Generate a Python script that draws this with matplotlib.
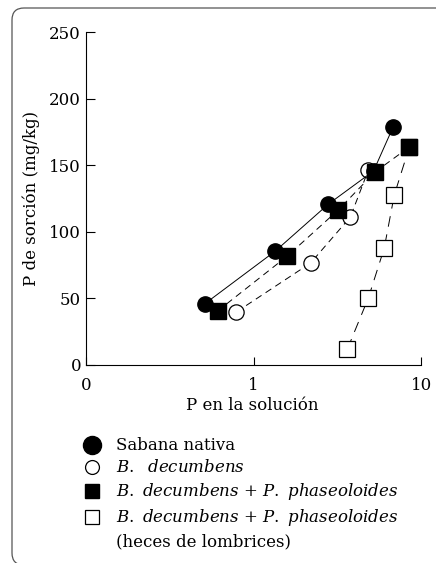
import matplotlib.pyplot as plt
from matplotlib.lines import Line2D
from matplotlib.patches import FancyBboxPatch
from matplotlib.transforms import IdentityTransform

plt.rcParams['font.family'] = ['DejaVu Serif']
plt.rcParams['mathtext.fontset'] = 'dejavuserif'

# P en la solucion (x, log) vs P de sorcion (y, mg/kg)
sabana_x = [0.51, 1.35, 2.8, 5.2, 6.8]
sabana_y = [45.8, 85.6, 120.9, 145.7, 178.7]

bdec_x = [0.79, 2.19, 3.78, 4.84]
bdec_y = [39.8, 76.6, 111.1, 146.4]

bdec_pp_x = [0.61, 1.59, 3.2, 5.3, 8.5]
bdec_pp_y = [40.5, 81.8, 116.4, 144.9, 163.7]

heces_x = [3.63, 4.84, 6.02, 6.91, 8.5]
heces_y = [12.0, 50.3, 87.8, 127.6, 163.7]

xticks = [0.1, 1, 10]
xticklabels = ["0", "1", "10"]
yticks = [0, 50, 100, 150, 200, 250]

fig = plt.figure(figsize=(4.36, 5.63), dpi=100)
ax = fig.add_axes([0.197, 0.3517, 0.769, 0.5913])

ms = 11
lw = 0.7
ax.plot(heces_x, heces_y, color="black", lw=lw, dashes=(11, 8),
        marker="s", ms=ms, mfc="white", mec="black", mew=0.9, zorder=2)
ax.plot(bdec_x, bdec_y, color="black", lw=lw, dashes=(7, 5),
        marker="o", ms=ms, mfc="white", mec="black", mew=0.9, zorder=3)
ax.plot(sabana_x, sabana_y, color="black", lw=lw, ls="-",
        marker="o", ms=ms, mfc="black", mec="black", zorder=4)
ax.plot(bdec_pp_x, bdec_pp_y, color="black", lw=lw, dashes=(7, 5),
        marker="s", ms=ms, mfc="black", mec="black", zorder=5)

ax.set_xscale("log")
ax.set_xlim(0.1, 10)
ax.set_ylim(0, 250)
ax.set_xticks(xticks)
ax.set_xticklabels(xticklabels)
ax.minorticks_off()
ax.set_yticks(yticks)
ax.spines["top"].set_visible(False)
ax.spines["right"].set_visible(False)
for s in ["left", "bottom"]:
    ax.spines[s].set_linewidth(0.8)
ax.tick_params(axis="y", direction="in", length=6.5, width=0.8, pad=3.5, labelsize=12)
ax.tick_params(axis="x", direction="in", length=6, width=0.8, pad=9, labelsize=12)

fig.text(0.578, 0.2806, "P en la solución", ha="center", va="center", fontsize=12)
fig.text(0.071, 0.648, "P de sorción (mg/kg)", ha="center", va="center",
         rotation=90, fontsize=12)

handles = [
    Line2D([], [], ls="none", marker="o", ms=13, mfc="black", mec="black"),
    Line2D([], [], ls="none", marker="o", ms=10, mfc="white", mec="black", mew=0.9),
    Line2D([], [], ls="none", marker="s", ms=10, mfc="black", mec="black"),
    Line2D([], [], ls="none", marker="s", ms=10, mfc="white", mec="black", mew=0.9),
    Line2D([], [], ls="none"),
]
labels = [
    "Sabana nativa",
    r"$B.$  $decumbens$",
    r"$B.$ $decumbens$ + $P.$ $phaseoloides$",
    r"$B.$ $decumbens$ + $P.$ $phaseoloides$",
    "(heces de lombrices)",
]
fig.legend(handles, labels, loc="upper left", bbox_to_anchor=(0.188, 0.223),
           frameon=False, fontsize=12, handlelength=1.2, handletextpad=0.84,
           labelspacing=0.3, borderpad=0, borderaxespad=0)

frame = FancyBboxPatch((12, -2), 440, 557, boxstyle="round,pad=0,rounding_size=12",
                       transform=IdentityTransform(), fill=False,
                       edgecolor="#555555", lw=0.9)
fig.add_artist(frame)

fig.savefig("out.png", dpi=100)
